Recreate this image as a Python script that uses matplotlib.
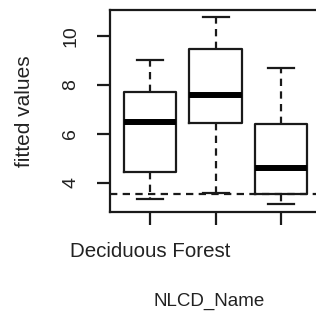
import matplotlib
matplotlib.use("Agg")
import matplotlib.pyplot as plt

plt.rcParams['font.family'] = ['Liberation Sans', 'DejaVu Sans']

# Data
categories = ["Deciduous Forest", "", ""]  # other labels hidden in the original (overlap)
positions = [1, 2, 3]
whislo = [3.34, 3.55, 3.11]
q1 = [4.41, 6.45, 3.53]
med = [6.47, 7.60, 4.59]
q3 = [7.70, 9.48, 6.38]
whishi = [9.00, 10.76, 8.70]
ref_line = 3.53
yticks = [4, 6, 8, 10]
ylabel = "fitted values"
xlabel = "NLCD_Name"

W, H = 316, 312
fig = plt.figure(figsize=(W / 100, H / 100), dpi=100)
ax = fig.add_axes([109.5 / W, (H - 211.7) / H, 212.2 / W, 201.7 / H])

stats = []
for i in range(len(positions)):
    stats.append(dict(whislo=whislo[i], q1=q1[i], med=med[i], q3=q3[i],
                      whishi=whishi[i], fliers=[]))

col = "#1a1a1a"
lw = 1.6
dash = (0, (3.3, 2.4))
ax.bxp(stats, positions=positions, widths=0.8, capwidths=0.4,
       showfliers=False, patch_artist=False,
       boxprops=dict(color=col, linewidth=lw),
       whiskerprops=dict(color=col, linewidth=lw, linestyle=dash),
       capprops=dict(color=col, linewidth=lw),
       medianprops=dict(color="black", linewidth=4.3, solid_capstyle="butt"))

ax.axhline(ref_line, color=col, linewidth=lw, linestyle=dash)

lo = min(whislo)
hi = max(whishi)
pad = 0.04 * (hi - lo)
ax.set_ylim(lo - pad, hi + pad)
ax.set_xlim(0.5 - 0.04 * 3, 3.5 + 0.04 * 3)

ax.set_yticks(yticks)
ax.set_yticklabels([str(t) for t in yticks], rotation=90, va="center",
                   fontsize=14, color="#222222")
ax.set_xticks(positions)
ax.set_xticklabels(categories, fontsize=14.8, color="#222222")
ax.tick_params(axis="both", length=9.4, width=lw, color=col, pad=12.5)

for s in ax.spines.values():
    s.set_linewidth(lw)
    s.set_color(col)

ax.set_ylabel(ylabel, fontsize=15, color="#222222", va="center")
ax.yaxis.set_label_coords((24 - 109.5) / 212.2, 0.5)
ax.set_xlabel(xlabel, fontsize=13.5, color="#222222", va="center")
ax.xaxis.set_label_coords((209.5 - 109.5) / 212.2, -(301 - 211.7) / 201.7)

fig.savefig("out.png", dpi=100)
